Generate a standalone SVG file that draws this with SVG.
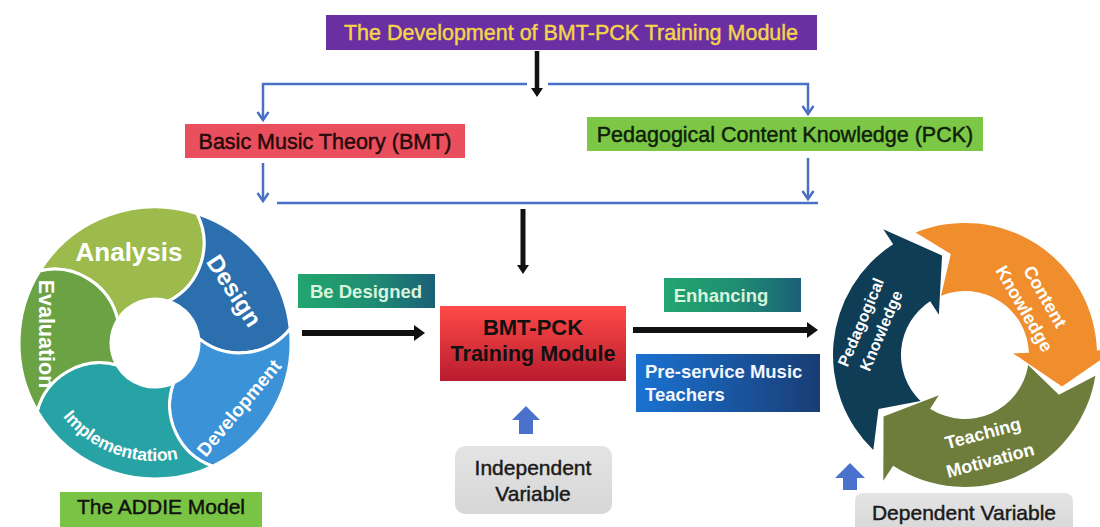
<svg xmlns="http://www.w3.org/2000/svg" width="1100" height="527" viewBox="0 0 1100 527">
  <defs>
    <style>
      .t { font-family: "Liberation Sans", Arial, sans-serif; }
      .b { font-weight: bold; }
      .heavy { stroke-width: 0.45; }
      .blue-line { fill: none; stroke: #4a70c6; stroke-width: 2.5; }
      .black-line { fill: none; stroke: #111; }
      .seg { stroke: #ffffff; stroke-width: 3; stroke-linejoin: round; }
      .wt { fill: #ffffff; }
      .gray-box { fill: url(#gGray); }
      .up { fill: #4a72cc; }
    </style>
    <linearGradient id="gGreenTeal" x1="0" y1="0" x2="1" y2="0">
      <stop offset="0" stop-color="#22a66e"/>
      <stop offset="0.55" stop-color="#1f8c72"/>
      <stop offset="1" stop-color="#1b5f78"/>
    </linearGradient>
    <linearGradient id="gBlueNavy" x1="0" y1="0" x2="1" y2="0">
      <stop offset="0" stop-color="#1a72d2"/>
      <stop offset="1" stop-color="#193d74"/>
    </linearGradient>
    <linearGradient id="gRed" x1="0" y1="0" x2="0" y2="1">
      <stop offset="0" stop-color="#ff4a48"/>
      <stop offset="1" stop-color="#b81c2e"/>
    </linearGradient>
    <linearGradient id="gGray" x1="0" y1="0" x2="0" y2="1">
      <stop offset="0" stop-color="#e4e4e4"/>
      <stop offset="1" stop-color="#d6d6d6"/>
    </linearGradient>
    <marker id="vHead" markerUnits="userSpaceOnUse" markerWidth="20" markerHeight="20" viewBox="-10 -10 20 20" refX="0" refY="0" orient="auto" overflow="visible">
      <path d="M -8 -5.5 L 0 0 L -8 5.5" fill="none" stroke="#4a70c6" stroke-width="2.5" stroke-linejoin="miter"/>
    </marker>
    <marker id="bigHead" markerUnits="userSpaceOnUse" markerWidth="24" markerHeight="24" viewBox="-12 -12 24 24" refX="0" refY="0" orient="auto" overflow="visible">
      <path d="M -1 -8 L 10 0 L -1 8 Z" fill="#111"/>
    </marker>
    <marker id="smallHead" markerUnits="userSpaceOnUse" markerWidth="20" markerHeight="20" viewBox="-10 -10 20 20" refX="0" refY="0" orient="auto" overflow="visible">
      <path d="M -1 -6 L 8 0 L -1 6 Z" fill="#111"/>
    </marker>
  </defs>

  <rect x="0" y="0" width="1100" height="527" fill="#ffffff"/>

  <!-- connectors -->
  <g id="connectors">
    <path class="black-line" d="M 537 51 V 89" stroke-width="4.5" marker-end="url(#smallHead)"/>
    <path class="blue-line" d="M 527 84 H 263 V 120" marker-end="url(#vHead)"/>
    <path class="blue-line" d="M 548 84 H 808 V 114" marker-end="url(#vHead)"/>
    <path class="blue-line" d="M 263 163 V 201" marker-end="url(#vHead)"/>
    <path class="blue-line" d="M 808 158 V 199" marker-end="url(#vHead)"/>
    <path class="blue-line" d="M 277 203 H 818"/>
    <path class="black-line" d="M 523 209 V 266" stroke-width="5" marker-end="url(#smallHead)"/>
    <path class="black-line" d="M 302 333 H 415" stroke-width="6" marker-end="url(#bigHead)"/>
    <path class="black-line" d="M 633 330 H 808" stroke-width="6" marker-end="url(#bigHead)"/>
    <polygon class="up" points="526,406 540,420 533,420 533,434 519,434 519,420 512,420"/>
    <polygon class="up" points="850,463 865,478 857,478 857,490 843,490 843,478 835,478"/>
  </g>

  <!-- heading -->
  <g id="node-title">
    <rect x="326" y="15" width="491" height="35" fill="#6a2fa2"/>
    <text class="t heavy" x="571" y="40" font-size="21.5" text-anchor="middle" fill="#f3d54a" stroke="#f3d54a">The Development of BMT-PCK Training Module</text>
  </g>

  <g id="node-bmt">
    <rect x="185" y="124" width="280" height="34" fill="#e94f5d"/>
    <text class="t heavy" x="325" y="149" font-size="21.5" text-anchor="middle" fill="#240a0a" stroke="#240a0a">Basic Music Theory (BMT)</text>
  </g>

  <g id="node-pck">
    <rect x="587" y="117" width="396" height="34" fill="#7cc846"/>
    <text class="t heavy" x="785" y="142" font-size="21.5" text-anchor="middle" fill="#0f200a" stroke="#0f200a">Pedagogical Content Knowledge (PCK)</text>
  </g>

  <g id="node-be-designed">
    <rect x="298" y="274" width="137" height="34" fill="url(#gGreenTeal)"/>
    <text class="t b" x="366" y="298" font-size="18.5" text-anchor="middle" fill="#d8f4dc">Be Designed</text>
  </g>

  <g id="node-module">
    <rect x="440" y="306" width="186" height="75" fill="url(#gRed)"/>
    <text class="t b" x="533" y="335" font-size="22" text-anchor="middle" fill="#111">BMT-PCK</text>
    <text class="t b" x="533" y="361" font-size="21.5" text-anchor="middle" fill="#111">Training Module</text>
  </g>

  <g id="node-enhancing">
    <rect x="664" y="278" width="137" height="34" fill="url(#gGreenTeal)"/>
    <text class="t b" x="721" y="302" font-size="18.5" text-anchor="middle" fill="#d8f4dc">Enhancing</text>
  </g>

  <g id="node-teachers">
    <rect x="636" y="354" width="184" height="58" fill="url(#gBlueNavy)"/>
    <text class="t b" x="645" y="378" font-size="18.5" fill="#f2f6ff">Pre-service Music</text>
    <text class="t b" x="645" y="401" font-size="18.5" fill="#f2f6ff">Teachers</text>
  </g>

  <g id="node-independent">
    <rect class="gray-box" x="455" y="446" width="157" height="68" rx="10"/>
    <text class="t heavy" x="533" y="475" font-size="21" text-anchor="middle" fill="#1a1a1a" stroke="#1a1a1a">Independent</text>
    <text class="t heavy" x="533" y="501" font-size="21" text-anchor="middle" fill="#1a1a1a" stroke="#1a1a1a">Variable</text>
  </g>

  <g id="node-dependent">
    <rect class="gray-box" x="855" y="493" width="218" height="45" rx="8"/>
    <text class="t heavy" x="964" y="520" font-size="21" text-anchor="middle" fill="#1a1a1a" stroke="#1a1a1a">Dependent Variable</text>
  </g>

  <g id="node-addie-label">
    <rect x="60" y="492" width="202" height="40" fill="#79c444"/>
    <text class="t heavy" x="161" y="514" font-size="21" text-anchor="middle" fill="#111" stroke="#111">The ADDIE Model</text>
  </g>

  <!-- ADDIE ring: five interlocking segments around (155,343) -->
  <g id="node-addie-cycle">
    <path id="seg-analysis" class="seg" fill="#9dbb4c" d="M 39.67,270.93 A 136 136 0 0 1 197.03,213.66 A 65 65 0 0 1 168.60,301.15 A 44 44 0 0 0 117.69,319.68 A 65 65 0 0 0 39.67,270.93 Z"/>
    <path id="seg-design" class="seg" fill="#2c6fae" d="M 197.03,213.66 A 136 136 0 0 1 290.25,328.78 A 65 65 0 0 1 198.76,338.40 A 44 44 0 0 0 168.60,301.15 A 65 65 0 0 0 197.03,213.66 Z"/>
    <path id="seg-development" class="seg" fill="#3b92d6" d="M 290.25,328.78 A 136 136 0 0 1 212.48,466.26 A 65 65 0 0 1 173.60,382.88 A 44 44 0 0 0 198.76,338.40 A 65 65 0 0 0 290.25,328.78 Z"/>
    <path id="seg-implementation" class="seg" fill="#27a3a6" d="M 212.48,466.26 A 136 136 0 0 1 37.22,411.00 A 65 65 0 0 1 116.89,365.00 A 44 44 0 0 0 173.60,382.88 A 65 65 0 0 0 212.48,466.26 Z"/>
    <path id="seg-evaluation" class="seg" fill="#6ba244" d="M 37.22,411.00 A 136 136 0 0 1 39.67,270.93 A 65 65 0 0 1 117.69,319.68 A 44 44 0 0 0 116.89,365.00 A 65 65 0 0 0 37.22,411.00 Z"/>
    <path id="implArc" d="M 38.79,363.49 A 118 118 0 0 0 230.85,433.39" fill="none"/>

    <text class="t b wt" x="129" y="261" font-size="26" text-anchor="middle">Analysis</text>
    <text class="t b wt" transform="translate(234 291) rotate(57)" y="8" font-size="24" text-anchor="middle">Design</text>
    <text class="t b wt" transform="translate(239 408) rotate(-50)" y="6.5" font-size="19" text-anchor="middle">Development</text>
    <text class="t b wt" transform="translate(46 334) rotate(90)" y="7.5" font-size="21.5" text-anchor="middle">Evaluation</text>
    <text class="t b wt" font-size="17.5"><textPath href="#implArc" startOffset="50%" text-anchor="middle">Implementation</textPath></text>
  </g>

  <!-- outcome ring: three circular arrows around (965,355) -->
  <g id="node-outcome-cycle">
    <path id="arrow-pk" fill="#0f3d56" d="M 873.30,449.95 A 132 132 0 0 1 893.11,244.30 L 883.30,229.20 L 942.06,255.61 L 938.86,314.74 L 930.14,301.33 A 64 64 0 0 0 920.54,401.04 L 878.50,409.05 Z"/>
    <path id="arrow-ck" fill="#f08d2c" d="M 915.55,232.61 A 132 132 0 0 1 1096.92,350.39 L 1114.91,349.77 L 1062.01,386.52 L 1012.97,353.32 L 1028.96,352.77 A 64 64 0 0 0 941.02,295.66 L 950.80,253.99 Z"/>
    <path id="arrow-tm" fill="#6e7d3c" d="M 1095.37,375.65 A 132 132 0 0 1 893.11,465.70 L 883.30,480.80 L 883.54,416.39 L 938.86,395.26 L 930.14,408.67 A 64 64 0 0 0 1028.21,365.01 L 1058.89,394.85 Z"/>

    <g transform="translate(871 326.5) rotate(-67)">
      <text class="t b wt" x="0" y="-5.5" font-size="16" text-anchor="middle">Pedagogical</text>
      <text class="t b wt" x="0" y="16.5" font-size="16" text-anchor="middle">Knowledge</text>
    </g>
    <g transform="translate(1035 302.5) rotate(60)">
      <text class="t b wt" x="0" y="-5.5" font-size="18" text-anchor="middle">Content</text>
      <text class="t b wt" x="0" y="18.5" font-size="18" text-anchor="middle">Knowledge</text>
    </g>
    <g transform="translate(986.5 446.5) rotate(-15)">
      <text class="t b wt" x="0" y="-7.5" font-size="18" text-anchor="middle">Teaching</text>
      <text class="t b wt" x="0" y="20.5" font-size="18" text-anchor="middle">Motivation</text>
    </g>
  </g>
</svg>
